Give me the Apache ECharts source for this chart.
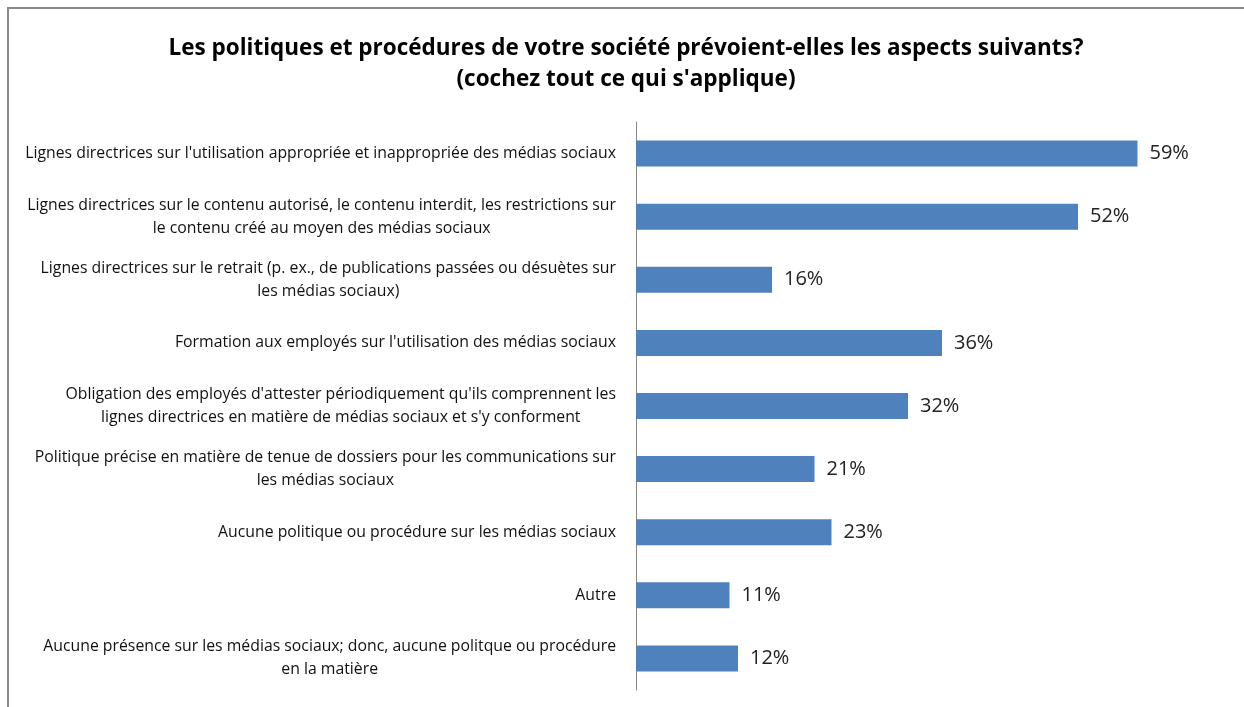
<!DOCTYPE html>
<html><head><meta charset="utf-8">
<script src="https://cdn.jsdelivr.net/npm/echarts@6/dist/echarts.min.js"></script>
<style>html,body{margin:0;padding:0;background:#fff}#c{width:1244px;height:707px}</style>
</head><body><div id="c"></div>
<script>
const titleLines = ["Les politiques et procédures de votre société prévoient-elles les aspects suivants?", "(cochez tout ce qui s'applique)"];
const categories = [
  "Lignes directrices sur l'utilisation appropriée et inappropriée des médias sociaux",
  "Lignes directrices sur le contenu autorisé, le contenu interdit, les restrictions sur\nle contenu créé au moyen des médias sociaux",
  "Lignes directrices sur le retrait (p. ex., de publications passées ou désuètes sur\nles médias sociaux)",
  "Formation aux employés sur l'utilisation des médias sociaux",
  "Obligation des employés d'attester périodiquement qu'ils comprennent les\nlignes directrices en matière de médias sociaux et s'y conforment",
  "Politique précise en matière de tenue de dossiers pour les communications sur\nles médias sociaux",
  "Aucune politique ou procédure sur les médias sociaux",
  "Autre",
  "Aucune présence sur les médias sociaux; donc, aucune politque ou procédure\nen la matière"
];
const values = [59, 52, 16, 36, 32, 21, 23, 11, 12];

const chart = echarts.init(document.getElementById('c'));
chart.setOption({
  animation: false,
  backgroundColor: '#fff',
  title: {
    text: titleLines.join('\n'),
    left: 621, top: 28, textAlign: 'center',
    textStyle: {fontFamily: 'Open Sans', fontWeight: 'bold', fontSize: 22.5, lineHeight: 31, color: '#000'}
  },
  graphic: [{type: 'rect', shape: {x: 8, y: 8, width: 1400, height: 900}, style: {fill: 'none', stroke: '#8a8a8a', lineWidth: 2}, silent: true}],
  grid: {left: 636, right: 13, top: 122, bottom: 17, containLabel: false},
  xAxis: {type: 'value', min: 0, max: 70, show: false},
  yAxis: {
    type: 'category', data: categories, inverse: true,
    axisLine: {show: true, lineStyle: {color: '#868686', width: 1}},
    axisTick: {show: false},
    axisLabel: {
      margin: 20, color: '#111',
      formatter: v => v.split('\n').map(s => '{c|' + s + '}').join('\n'),
      rich: {c: {align: 'center', fontFamily: 'Open Sans', fontSize: 15.8, lineHeight: 23, color: '#111'}}
    }
  },
  series: [{
    type: 'bar', data: values, barWidth: 26,
    itemStyle: {color: '#4F81BD'},
    label: {show: true, position: 'right', distance: 12, formatter: '{c}%', fontFamily: 'Open Sans', fontSize: 20, color: '#222'}
  }]
});
</script></body></html>
